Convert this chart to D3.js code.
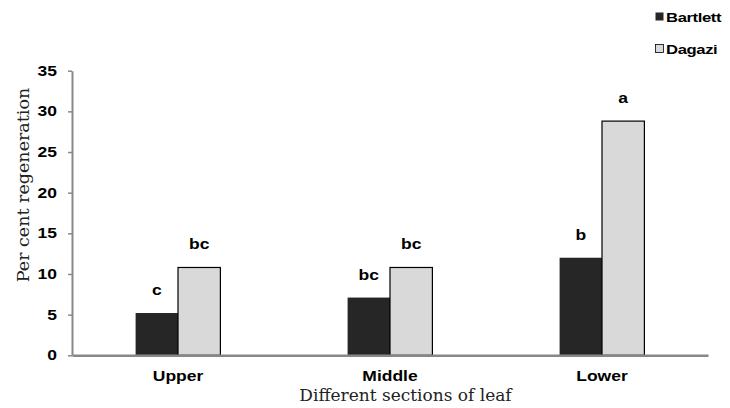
<!DOCTYPE html>
<html><head><meta charset="utf-8">
<script src="https://cdn.jsdelivr.net/npm/d3@7"></script>
<style>body{margin:0;background:#fff}</style>
</head><body>
<svg id="c" width="730" height="408"></svg>
<script>
const categories = ["Upper", "Middle", "Lower"];
const seriesNames = ["Bartlett", "Dagazi"];
const bartlett = [5.2, 7.1, 12.0];
const dagazi = [10.8, 10.8, 28.8];
const bartlettLabels = ["c", "bc", "b"];
const dagaziLabels = ["bc", "bc", "a"];
const yTicks = [0, 5, 10, 15, 20, 25, 30, 35];

const svg = d3.select("#c");
const mLeft = 72, mRight = 708, mTop = 70.7, mBottom = 355.3;
const SX = 1.25; // horizontal stretch of the sans labels
const sansFont = "Liberation Sans, Arial, sans-serif";
const x = d3.scaleBand().domain(categories).range([mLeft, mRight]).paddingInner(0).paddingOuter(0);
const sub = d3.scaleBand().domain(seriesNames).range([0, x.bandwidth()]).paddingInner(0).paddingOuter(1.5);
const y = d3.scaleLinear().domain([0, 35]).range([mBottom, mTop]);
const colors = {Bartlett: "#262626", Dagazi: "#d9d9d9"};
const values = {Bartlett: bartlett, Dagazi: dagazi};
const labels = {Bartlett: bartlettLabels, Dagazi: dagaziLabels};

// y axis
const ya = svg.append("g").attr("transform", `translate(${mLeft},0)`)
  .call(d3.axisLeft(y).tickValues(yTicks).tickSize(4).tickPadding(11).tickSizeOuter(0));
ya.select(".domain").attr("stroke", "#888").attr("stroke-width", 2);
ya.selectAll(".tick line").attr("stroke", "#888").attr("stroke-width", 1.5);
ya.selectAll(".tick text").attr("font-family", sansFont)
  .attr("font-weight", "bold").attr("font-size", 14).attr("fill", "#000")
  .attr("x", -15 / SX).attr("transform", `scale(${SX},1)`);

// bars
seriesNames.forEach(s => {
  const g = svg.append("g");
  g.selectAll("rect").data(categories).join("rect")
    .attr("x", c => x(c) + sub(s))
    .attr("y", (c, i) => y(values[s][i]))
    .attr("width", sub.bandwidth())
    .attr("height", (c, i) => y(0) - y(values[s][i]))
    .attr("fill", colors[s])
    .attr("stroke", s === "Dagazi" ? "#000" : "none")
    .attr("stroke-width", 1.2);
  g.selectAll("text").data(categories).join("text")
    .attr("transform", (c, i) => `translate(${x(c) + sub(s) + sub.bandwidth() / 2},${y(values[s][i]) - 18}) scale(${SX},1)`)
    .attr("text-anchor", "middle")
    .attr("font-family", sansFont)
    .attr("font-weight", "bold").attr("font-size", 14)
    .text((c, i) => labels[s][i]);
});

// x axis
const xa = svg.append("g").attr("transform", `translate(0,${mBottom})`)
  .call(d3.axisBottom(x).tickSize(0).tickPadding(16));
xa.select(".domain").attr("stroke", "#888").attr("stroke-width", 2.5);
xa.selectAll(".tick text").attr("font-family", sansFont)
  .attr("font-weight", "bold").attr("font-size", 14).attr("fill", "#000")
  .attr("transform", `scale(${SX},1)`);
xa.selectAll(".tick text").attr("y", function() { return +d3.select(this).attr("y"); });

// titles
svg.append("text").attr("x", 405.5).attr("y", 401)
  .attr("text-anchor", "middle").attr("font-family", "DejaVu Serif, serif")
  .attr("font-size", 17).attr("fill", "#222").text("Different sections of leaf");
svg.append("text").attr("transform", "translate(29,185) rotate(-90)")
  .attr("text-anchor", "middle").attr("font-family", "DejaVu Serif, serif")
  .attr("font-size", 17.5).attr("fill", "#222").text("Per cent regeneration");

// legend
const lg = svg.append("g");
seriesNames.forEach((s, i) => {
  const yy = 12.5 + i * 32;
  lg.append("rect").attr("x", 655.5).attr("y", yy).attr("width", 8).attr("height", 8)
    .attr("fill", colors[s]).attr("stroke", s === "Dagazi" ? "#000" : "none").attr("stroke-width", 0.8);
  lg.append("text").attr("transform", `translate(666,${yy + 9}) scale(1.28,1)`)
    .attr("font-family", sansFont).attr("font-weight", "bold")
    .attr("font-size", 13).attr("letter-spacing", -0.3).text(s);
});
</script>
</body></html>
